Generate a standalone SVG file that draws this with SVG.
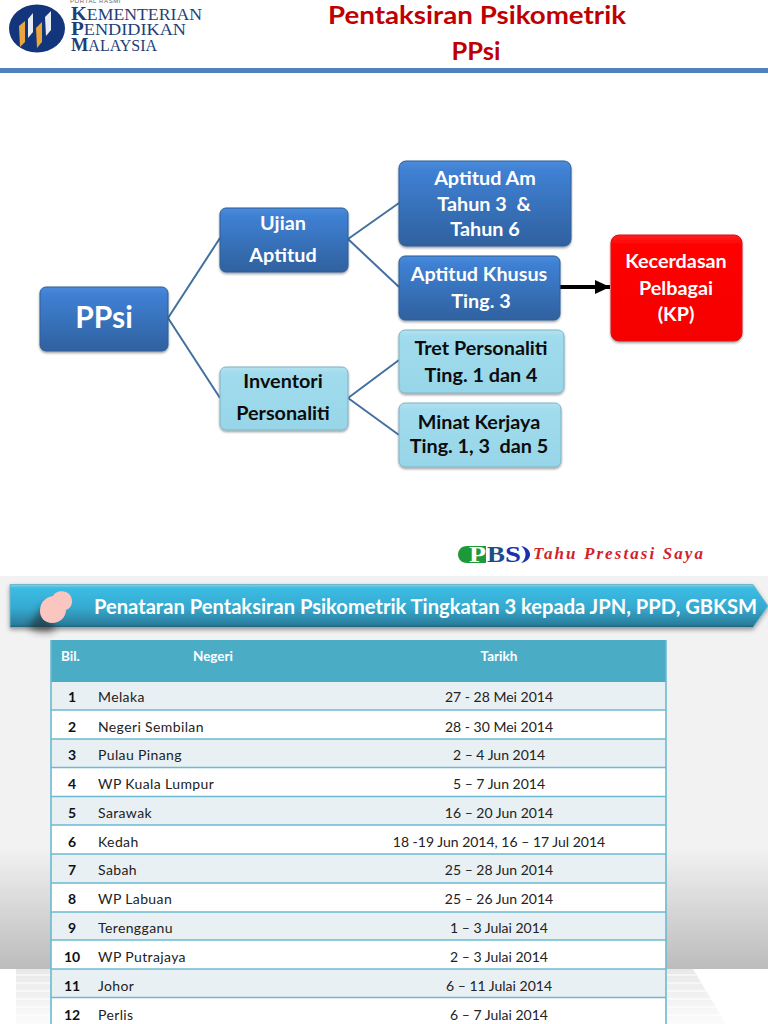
<svg xmlns="http://www.w3.org/2000/svg" width="768" height="1024" viewBox="0 0 768 1024">
<style>
text{font-family:Lato,"Open Sans","Liberation Sans",sans-serif;white-space:pre}
.c{text-anchor:middle}
.w{fill:#fff;font-weight:700;font-size:19.800px}
.k{fill:#0c0c0c;font-weight:700;font-size:19.800px}
.blue{fill:url(#gb);stroke:#2f5f97;stroke-width:1;filter:url(#sh)}
.cyan{fill:url(#gc);stroke:#7fb3c4;stroke-width:1;filter:url(#sh)}
.link{stroke:#44709f;stroke-width:2;fill:none}
.th{fill:#fff;font-size:13.500px;font-weight:700}
.n{fill:#111;font-size:14px;font-weight:700;text-anchor:middle}
.t{fill:#222;font-size:14px}
.s{fill:#222;font-size:14px;letter-spacing:.38px}
.rl{stroke:#6cb9d1;stroke-width:1.600}
.logo{font-family:"Liberation Serif",serif;fill:#1d3f78;font-size:16.500px}
.logo tspan{font-size:19px;font-weight:700}
.pbs{font-family:"Liberation Serif",serif;font-weight:700;font-size:24px}
.tag{font-family:"Liberation Serif",serif;font-style:italic;font-weight:700;font-size:17px;fill:#d2232a}
</style>
<defs>
<linearGradient id="gb" x1="0" y1="0" x2="0" y2="1"><stop offset="0" stop-color="#4a8bdc"/><stop offset=".12" stop-color="#3f80d3"/><stop offset="1" stop-color="#2f619f"/></linearGradient>
<linearGradient id="gc" x1="0" y1="0" x2="0" y2="1"><stop offset="0" stop-color="#b4e2f0"/><stop offset=".1" stop-color="#a0dced"/><stop offset="1" stop-color="#97d5e8"/></linearGradient>
<linearGradient id="gr" x1="0" y1="0" x2="0" y2="1"><stop offset="0" stop-color="#ff2020"/><stop offset=".1" stop-color="#fe0000"/><stop offset="1" stop-color="#f50000"/></linearGradient>
<linearGradient id="gbg" gradientUnits="userSpaceOnUse" x1="0" y1="576" x2="0" y2="969"><stop offset="0" stop-color="#f2f2f2"/><stop offset=".69" stop-color="#f2f2f2"/><stop offset="1" stop-color="#bcbcbc"/></linearGradient>
<linearGradient id="gfade" gradientUnits="userSpaceOnUse" x1="0" y1="969" x2="0" y2="1024"><stop offset="0" stop-color="#e8e8e8"/><stop offset="1" stop-color="#fbfbfb"/></linearGradient>
<linearGradient id="gban" x1="0" y1="0" x2="0" y2="1"><stop offset="0" stop-color="#8fd0e6"/><stop offset=".08" stop-color="#3cbce4"/><stop offset=".55" stop-color="#35a9cf"/><stop offset=".92" stop-color="#2b7f9e"/><stop offset="1" stop-color="#1f6178"/></linearGradient>
<filter id="sh" x="-10%" y="-10%" width="120%" height="125%"><feDropShadow dx="0" dy="1.500" stdDeviation="1.200" flood-color="#000" flood-opacity=".4"/></filter>
<filter id="sh2" x="-5%" y="-20%" width="110%" height="150%"><feDropShadow dx="0" dy="2" stdDeviation="2" flood-color="#000" flood-opacity=".35"/></filter>
<filter id="bl" x="-50%" y="-50%" width="200%" height="200%"><feGaussianBlur stdDeviation="3.500"/></filter>
<marker id="arr" markerUnits="userSpaceOnUse" markerWidth="16" markerHeight="16" refX="15" refY="8" orient="auto"><path d="M0,1 L15,8 L0,15 Z" fill="#000"/></marker>
</defs>

<rect width="768" height="1024" fill="#fff"/>
<g id="header">
<rect x="0" y="68" width="768" height="5" fill="#4f81bd"/>
<g id="logo">
<ellipse cx="37" cy="28.500" rx="28" ry="24" fill="#12357c"/>
<path d="M19,26l6,-5v21l-5,5z" fill="#eaa63a"/>
<path d="M28,19l5,-6v19l-5,6z" fill="#e8ecf4"/>
<path d="M36,28l6,-6v20l-5,6z" fill="#eaa63a"/>
<path d="M45,17l6,-6v19l-5,6z" fill="#e8ecf4"/>
<text x="70" y="3" style="font-family:'Liberation Sans',sans-serif;font-size:6px;fill:#666;letter-spacing:.6px">PORTAL RASMI</text>
<text class="logo" x="71" y="19.500" textLength="131" lengthAdjust="spacingAndGlyphs"><tspan>K</tspan>EMENTERIAN</text>
<text class="logo" x="71" y="35" textLength="115" lengthAdjust="spacingAndGlyphs"><tspan>P</tspan>ENDIDIKAN</text>
<text class="logo" x="71" y="50.500" textLength="86" lengthAdjust="spacingAndGlyphs"><tspan>M</tspan>ALAYSIA</text>
</g>
<g id="title">
<text class="c" x="477" y="24" textLength="298" lengthAdjust="spacingAndGlyphs" style="fill:#c00000;font-weight:700;font-size:25.500px">Pentaksiran Psikometrik</text>
<text class="c" x="476" y="60" style="fill:#c00000;font-weight:700;font-size:25.500px">PPsi</text>
</g>
</g>

<g id="connectors">
<path class="link" d="M168,318 L220,238 M168,318 L220,398 M348,239 L399,203 M348,239 L399,287 M348,398 L399,360 M348,398 L399,435"/>
<line x1="559" y1="287" x2="610" y2="287" stroke="#000" stroke-width="3.800" marker-end="url(#arr)"/>
</g>

<g id="node-ppsi"><rect class="blue" x="40" y="287" width="128" height="64" rx="6"/><text class="c w" x="104" y="328" style="font-size:30px">PPsi</text></g>
<g id="node-ujian"><rect class="blue" x="220" y="208" width="128" height="64" rx="6"/><text class="c w" x="283" y="230">Ujian</text><text class="c w" x="283" y="262">Aptitud</text></g>
<g id="node-inventori"><rect class="cyan" x="220" y="367" width="128" height="63" rx="6"/><text class="c k" x="283" y="388">Inventori</text><text class="c k" x="283" y="420">Personaliti</text></g>
<g id="node-am"><rect class="blue" x="399" y="161" width="172" height="85" rx="7"/><text class="c w" x="485" y="185">Aptitud Am</text><text class="c w" x="484" y="211">Tahun 3  &amp;</text><text class="c w" x="485" y="236">Tahun 6</text></g>
<g id="node-khusus"><rect class="blue" x="399" y="256" width="161" height="64" rx="6"/><text class="c w" x="479" y="281">Aptitud Khusus</text><text class="c w" x="481" y="308">Ting. 3</text></g>
<g id="node-tret"><rect class="cyan" x="399" y="330" width="165" height="63" rx="6"/><text class="c k" x="481" y="355">Tret Personaliti</text><text class="c k" x="481" y="382">Ting. 1 dan 4</text></g>
<g id="node-minat"><rect class="cyan" x="399" y="403" width="162" height="64" rx="6"/><text class="c k" x="479" y="429">Minat Kerjaya</text><text class="c k" x="479" y="453">Ting. 1, 3  dan 5</text></g>
<g id="node-kp"><rect x="611" y="235" width="131" height="106" rx="8" fill="url(#gr)" stroke="#d81010" filter="url(#sh)"/><text class="c w" x="676" y="268">Kecerdasan</text><text class="c w" x="676" y="295">Pelbagai</text><text class="c w" x="676" y="321">(KP)</text></g>

<g id="pbs">
<path d="M467,546H486V563H467C455,563 455,546 467,546Z" fill="#1c9a3a"/>
<text class="pbs" x="469" y="562" style="fill:#fff" textLength="17" lengthAdjust="spacingAndGlyphs">P</text>
<text class="pbs" x="487" y="562" style="fill:#1b4f8a" textLength="18" lengthAdjust="spacingAndGlyphs">B</text>
<text class="pbs" x="505" y="562" style="fill:#1c2fb0" textLength="16" lengthAdjust="spacingAndGlyphs">S</text>
<path d="M521,546C533,548 533,561 521,563C527,559 527,550 521,546Z" fill="#1c2fb0"/>
<text class="tag" x="533" y="559" textLength="170" lengthAdjust="spacing">Tahu Prestasi Saya</text>
</g>

<g id="lower">
<rect x="0" y="576" width="768" height="393" fill="url(#gbg)"/>
<path d="M16,969H693L726,1024H16z" fill="url(#gfade)"/>
<path d="M16,975H696M16,983H701M16,991H706M16,999H711M16,1007H716M16,1015H721" stroke="#fff" stroke-width="1.500" opacity=".7"/>
<g id="banner">
<path d="M10,584.500H753L768,606L753,627.500H10z" fill="url(#gban)" stroke="#6fb6ce" filter="url(#sh2)"/>
<path d="M28,628L44,604L56,630Q44,636 28,628Z" fill="#222" opacity=".55" filter="url(#bl)"/>
<path d="M40,611C40,601 47,597 53,596C56,590 66,590 70,595C74,601 72,608 66,610C66,617 60,623 52,623C45,623 40,618 40,611Z" fill="#fcc6c0"/>
<text x="94" y="614" textLength="663" lengthAdjust="spacingAndGlyphs" style="fill:#fff;font-size:20.500px;font-weight:700">Penataran Pentaksiran Psikometrik Tingkatan 3 kepada JPN, PPD, GBKSM</text>
</g>
<g id="table">
<rect x="51" y="640" width="615" height="42" fill="#4bacc6"/>
<rect x="51" y="682" width="615" height="28" fill="#e9f0f4"/>
<rect x="51" y="710" width="615" height="29" fill="#fff"/>
<rect x="51" y="739" width="615" height="28" fill="#e9f0f4"/>
<rect x="51" y="767" width="615" height="29" fill="#fff"/>
<rect x="51" y="796" width="615" height="29" fill="#e9f0f4"/>
<rect x="51" y="825" width="615" height="29" fill="#fff"/>
<rect x="51" y="854" width="615" height="29" fill="#e9f0f4"/>
<rect x="51" y="883" width="615" height="29" fill="#fff"/>
<rect x="51" y="912" width="615" height="28" fill="#e9f0f4"/>
<rect x="51" y="940" width="615" height="29" fill="#fff"/>
<rect x="51" y="969" width="615" height="28" fill="#e9f0f4"/>
<rect x="51" y="997" width="615" height="27" fill="#fff"/>
<path class="rl" d="M51,710H666M51,739H666M51,767.500H666M51,796.500H666M51,825H666M51,854H666M51,883H666M51,912H666M51,940H666M51,969H666M51,997.500H666M51,640V1024M666,640V1024"/>
<text class="th" x="61" y="661">Bil.</text><text class="th c" x="213" y="661">Negeri</text><text class="th c" x="499" y="661">Tarikh</text>
<g>
<text class="s" x="98" y="702">Melaka</text><text class="s" x="98" y="731.500">Negeri Sembilan</text><text class="s" x="98" y="760">Pulau Pinang</text><text class="s" x="98" y="789">WP Kuala Lumpur</text><text class="s" x="98" y="817.500">Sarawak</text><text class="s" x="98" y="846.500">Kedah</text><text class="s" x="98" y="875">Sabah</text><text class="s" x="98" y="904">WP Labuan</text><text class="s" x="98" y="933">Terengganu</text><text class="s" x="98" y="962">WP Putrajaya</text><text class="s" x="98" y="990.500">Johor</text><text class="s" x="98" y="1019.500">Perlis</text>
</g>
<g>
<text class="n" x="72" y="702">1</text><text class="n" x="72" y="731.500">2</text><text class="n" x="72" y="760">3</text><text class="n" x="72" y="789">4</text><text class="n" x="72" y="817.500">5</text><text class="n" x="72" y="846.500">6</text><text class="n" x="72" y="875">7</text><text class="n" x="72" y="904">8</text><text class="n" x="72" y="933">9</text><text class="n" x="72" y="962">10</text><text class="n" x="72" y="990.500">11</text><text class="n" x="72" y="1019.500">12</text>
</g>
<g text-anchor="middle">
<text class="t" x="499" y="702">27 - 28 Mei 2014</text><text class="t" x="499" y="731.500">28 - 30 Mei 2014</text><text class="t" x="499" y="760">2 – 4 Jun 2014</text><text class="t" x="499" y="789">5 – 7 Jun 2014</text><text class="t" x="499" y="817.500">16 – 20 Jun 2014</text><text class="t" x="499" y="846.500">18 -19 Jun 2014, 16 – 17 Jul 2014</text><text class="t" x="499" y="875">25 – 28 Jun 2014</text><text class="t" x="499" y="904">25 – 26 Jun 2014</text><text class="t" x="499" y="933">1 – 3 Julai 2014</text><text class="t" x="499" y="962">2 – 3 Julai 2014</text><text class="t" x="499" y="990.500">6 – 11 Julai 2014</text><text class="t" x="499" y="1019.500">6 – 7 Julai 2014</text>
</g>
</g>
</g>
</svg>
